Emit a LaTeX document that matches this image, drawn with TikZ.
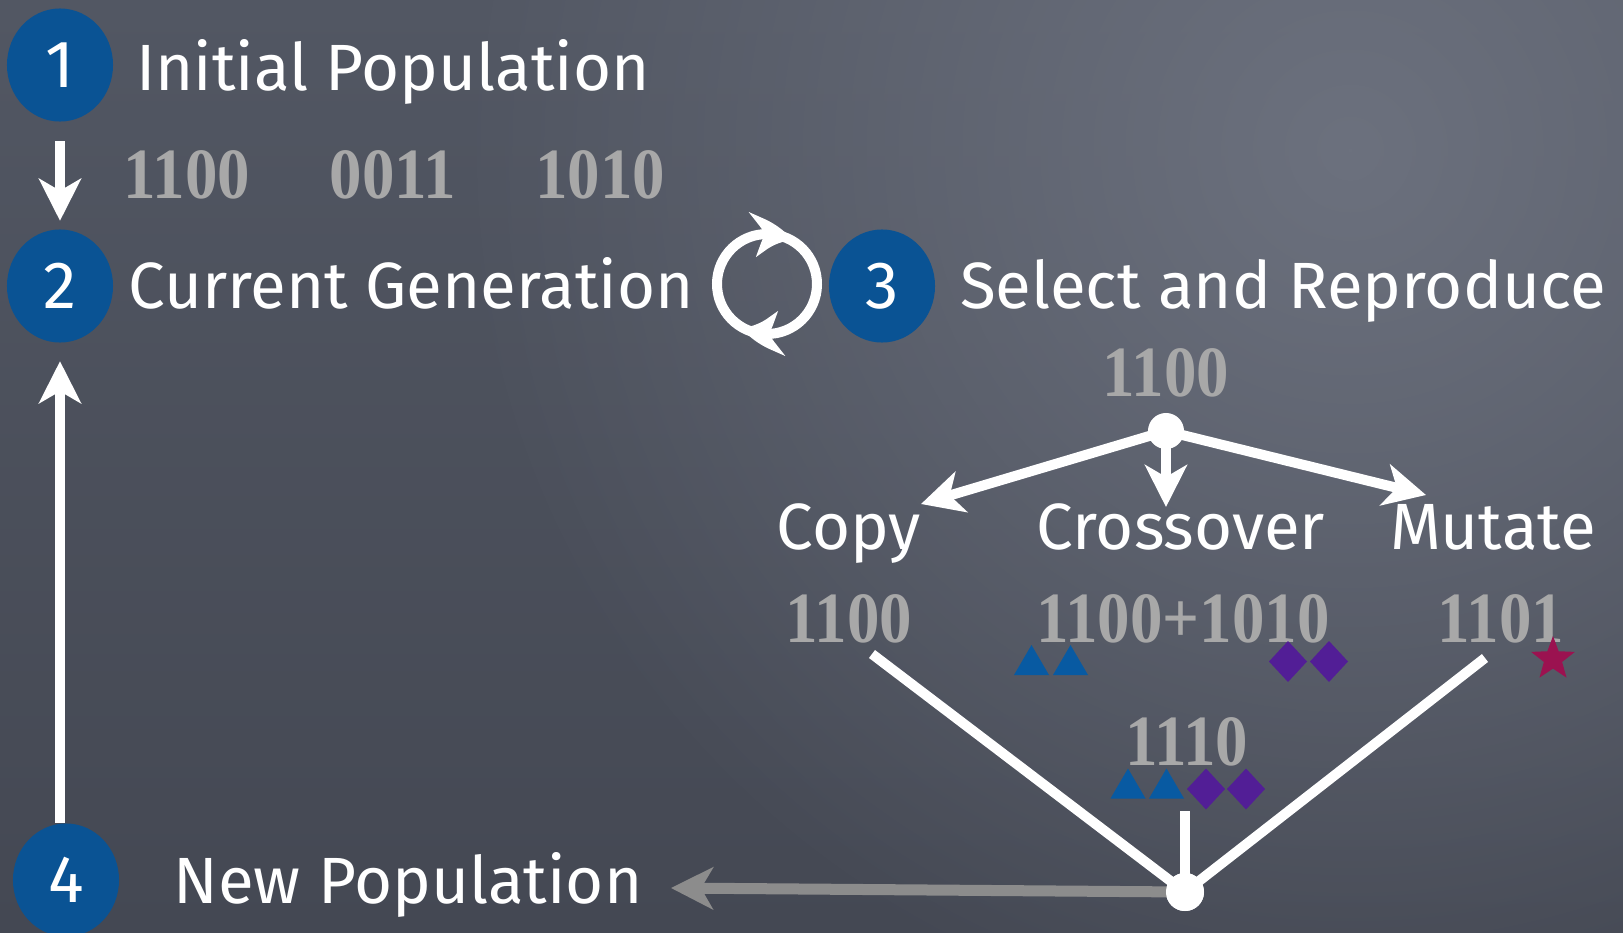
\documentclass[tikz,border=0pt]{standalone}
\usepackage{fontspec}
\setmainfont{Fira Sans}
\newfontfamily\numfont[FakeStretch=0.9]{Liberation Serif}
\usetikzlibrary{arrows.meta,bending,shapes.geometric,fadings}

\definecolor{board}{RGB}{82,87,99}
\definecolor{boardlight}{RGB}{108,113,126}
\definecolor{boarddark}{RGB}{68,72,83}
\definecolor{stepblue}{RGB}{10,83,148}
\definecolor{chalkgray}{RGB}{168,168,168}
\definecolor{geneblue}{RGB}{8,90,162}
\definecolor{genepurple}{RGB}{82,30,150}
\definecolor{genered}{RGB}{155,18,80}
\definecolor{linkgray}{RGB}{140,140,140}

\tikzfading[name=glow, inner color=transparent!0, outer color=transparent!100]

\tikzset{
  badge/.style={ellipse, fill=stepblue, minimum width=1.06cm, minimum height=1.13cm,
    inner sep=0pt, text=white, font=\fontsize{19}{19}\selectfont},
  lbl/.style={text=white, font=\fontsize{18.6}{22}\selectfont, inner sep=0pt, anchor=base},
  bits/.style={text=chalkgray, font=\numfont\bfseries\fontsize{20.5}{22}\selectfont,
    inner sep=0pt, anchor=base},
  chalk/.style={white, line width=0.1cm},
  tip/.style={-{Stealth[length=0.42cm,width=0.42cm,inset=0.12cm]}},
  bendtip/.style={-{Stealth[length=0.4cm,width=0.44cm,inset=0.12cm,bend]}},
  dot/.style={circle, fill=white, inner sep=0pt},
  tri/.pic={\fill[geneblue] (-17.5,-15) -- (17.5,-15) -- (0,15) -- cycle;},
  gem/.pic={\fill[genepurple] (-19,0) -- (0,20.5) -- (19,0) -- (0,-20.5) -- cycle;},
}

\begin{document}
\begin{tikzpicture}[x=0.01cm,y=0.01cm]
% chalkboard
\useasboundingbox (0,0) rectangle (1623,-933);
\shade[top color=board, bottom color=boarddark] (0,0) rectangle (1623,-933);
\begin{scope}
  \clip (0,0) rectangle (1623,-933);
  \fill[boardlight, path fading=glow] (1350,-150) circle (900);
\end{scope}

% step badges and titles
\node[badge] (b1) at (60,-65) {1};
\node[lbl] (t1) at (393,-90) {Initial Population};
\node[badge] (b2) at (60,-286) {2};
\node[lbl] (t2) at (411,-308) {Current Generation};
\node[badge] (b3) at (882,-286) {3};
\node[lbl] (t3) at (1283,-308) {Select and Reproduce};
\node[badge] (b4) at (66,-880) {4};
\node[lbl] (t4) at (408,-903) {New Population};

% initial population
\node[bits] (p1) at (187,-198) {1100};
\node[bits] (p2) at (393,-198) {0011};
\node[bits] (p3) at (600,-198) {1010};

\draw[chalk,tip,shorten <=0.19cm,shorten >=0.08cm] (b1) -- (b2);
\draw[chalk,tip,shorten >=0.18cm] (b2 |- b4.north) -- (b2);

% generation cycle: two half rings running clockwise
\coordinate (cyc) at (767,-284);
\draw[chalk,bendtip] (cyc) ++(275:50) arc[start angle=275, end angle=60, radius=50];
\draw[chalk,bendtip] (cyc) ++(95:50) arc[start angle=95, end angle=-120, radius=50];

% reproduction tree
\node[bits] (par) at (1166,-396) {1100};
\node[dot, minimum size=0.36cm] (split) at (1166,-431) {};
\node[lbl] (copy) at (849,-549) {Copy};
\node[lbl] (cross) at (1181,-549) {Crossover};
\node[lbl] (mut) at (1493,-549) {Mutate};
\coordinate (toCopy) at (921,-504);
\coordinate (toCross) at (1166,-507);
\coordinate (toMut) at (1426,-495);
\draw[chalk,tip] (split.center) -- (toCopy);
\draw[chalk,tip] (split.center) -- (toCross);
\draw[chalk,tip] (split.center) -- (toMut);

\node[bits] (c1) at (849,-642) {1100};
\node[bits] (c2) at (1183,-642) {1100+1010};
\node[bits] (c3) at (1501,-642) {1101};
\node[bits] (c4) at (1187,-765) {1110};

\pic at (1031.5,-660) {tri};
\pic at (1070.5,-660) {tri};
\pic at (1288,-661.5) {gem};
\pic at (1329,-661.5) {gem};
\node[star, star points=5, star point ratio=2.4, fill=genered, minimum size=0.46cm,
  inner sep=0pt] (mark) at (1553,-659) {};
\pic at (1128,-783.5) {tri};
\pic at (1166.5,-783.5) {tri};
\pic at (1206,-789) {gem};
\pic at (1246,-789) {gem};

% merge into the new population
\node[dot, minimum size=0.38cm] (join) at (1185,-892) {};
\coordinate (fromCopy) at (872,-654);
\coordinate (fromMut) at (1485,-658);
\coordinate (fromMid) at (1185,-811);
\coordinate (toNew) at (671,-888);
\draw[linkgray,line width=0.11cm,tip] (join.center) -- (toNew);
\draw[chalk] (fromCopy) -- (join.center);
\draw[chalk] (fromMut) -- (join.center);
\draw[chalk] (fromMid) -- (join.center);
\node[dot, minimum size=0.38cm] at (join) {};
\end{tikzpicture}
\end{document}
